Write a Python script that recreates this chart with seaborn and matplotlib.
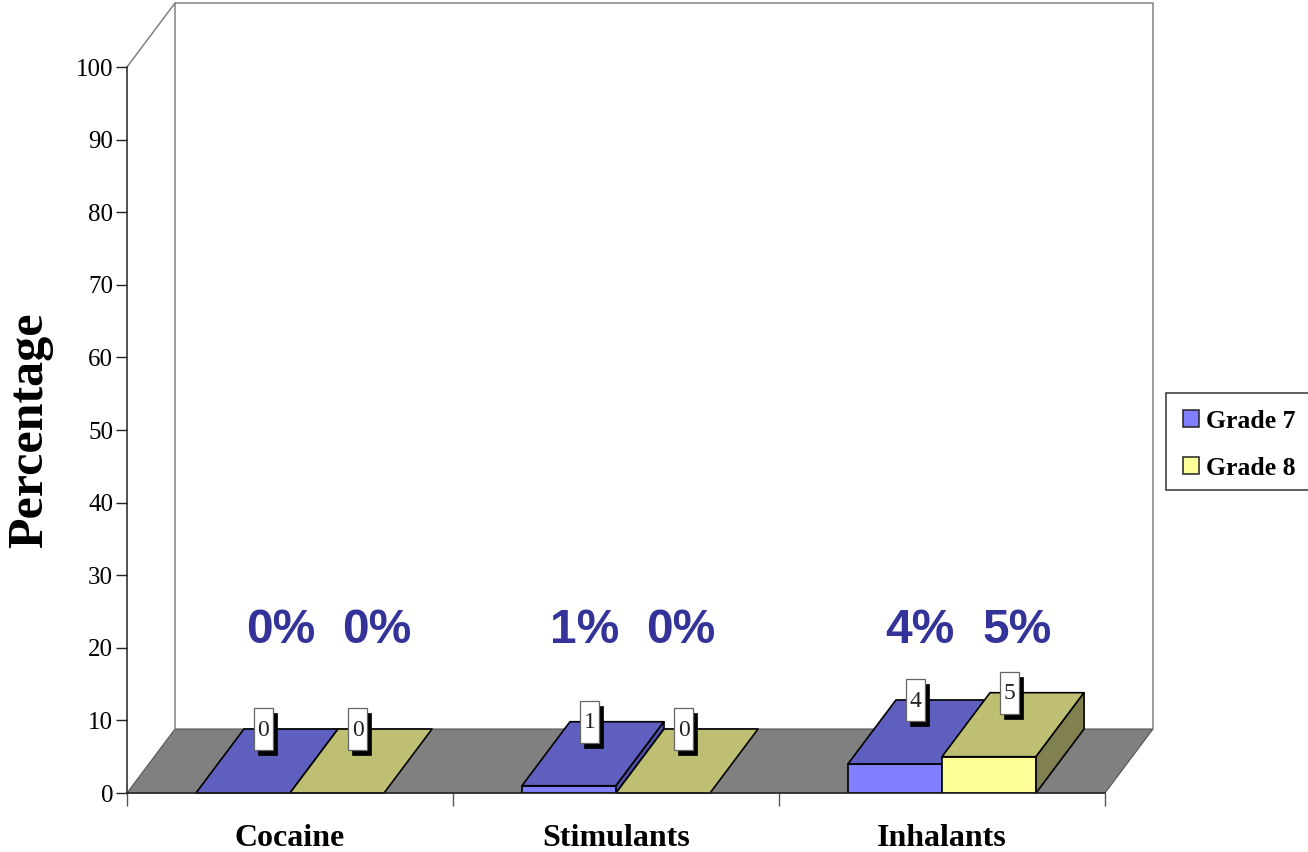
import matplotlib
matplotlib.use("Agg")
import matplotlib.pyplot as plt
from matplotlib.patches import Patch, Polygon, Rectangle
import pandas as pd
import seaborn as sns

drugs = ["Cocaine", "Stimulants", "Inhalants"]
grade7 = [0, 1, 4]
grade8 = [0, 0, 5]
grades = ["Grade 7", "Grade 8"]
pct_labels = [["0%", "1%", "4%"], ["0%", "0%", "5%"]]

front_cols = ["#8080FF", "#FFFF99"]
top_cols = ["#5F5FBF", "#BFBF73"]
side_cols = ["#5050A8", "#808050"]

# the % labels sit by hand in the original, pixels right of each bar centre
pct_shift = [[38, 16, 25], [40, 18, 28]]

sns.set_theme(style="white")
plt.rcParams["font.family"] = ["Liberation Serif", "DejaVu Serif"]
plt.rcParams["text.color"] = "black"
plt.rcParams["xtick.color"] = "black"
plt.rcParams["ytick.color"] = "black"

df = pd.DataFrame({
    "drug": drugs * 2,
    "grade": [grades[0]] * 3 + [grades[1]] * 3,
    "pct": grade7 + grade8,
})

W, H = 1308, 852
fig = plt.figure(figsize=(W / 100, H / 100), dpi=100, facecolor="white")
ax = fig.add_axes([127 / W, (H - 793) / H, 978 / W, 726 / H])

sns.barplot(data=df, x="drug", y="pct", hue="grade", hue_order=grades,
            palette=front_cols, saturation=1, width=0.577, dodge=True, gap=0,
            edgecolor="black", linewidth=1.2, legend=False, ax=ax, zorder=3)

ax.set_xlim(-0.5, 2.5)
ax.set_ylim(0, 100)

# sizes of the fake 3d depth, in data units
dx = 48 / 326
dy = 64 / 7.26
x0, x1 = ax.get_xlim()
y0, y1 = ax.get_ylim()

# floor and back wall
ax.add_patch(Polygon([(x0, y0), (x1, y0), (x1 + dx, y0 + dy), (x0 + dx, y0 + dy)],
                     closed=True, fc="#808080", ec="#555555", lw=0.8, zorder=1, clip_on=False))
wall = "#808080"
ax.plot([x0, x0 + dx, x1 + dx, x1 + dx], [y1, y1 + dy, y1 + dy, y0 + dy],
        color=wall, lw=1.1, clip_on=False, zorder=1)
ax.plot([x0 + dx, x0 + dx], [y1 + dy, y0 + dy], color=wall, lw=1.1, clip_on=False, zorder=1)

# top and side of each bar, then the little value boxes
for h, cont in enumerate(ax.containers):
    for i, bar in enumerate(cont):
        bx, bw, top = bar.get_x(), bar.get_width(), bar.get_height()
        z = 3 + h
        bar.set_zorder(z)
        ax.add_patch(Polygon([(bx, top), (bx + bw, top), (bx + bw + dx, top + dy), (bx + dx, top + dy)],
                             closed=True, fc=top_cols[h], ec="black", lw=1.2, zorder=z,
                             clip_on=False, joinstyle="round"))
        if top > 0:
            ax.add_patch(Polygon([(bx + bw, 0), (bx + bw + dx, dy), (bx + bw + dx, top + dy), (bx + bw, top)],
                                 closed=True, fc=side_cols[h], ec="black", lw=1.2, zorder=z,
                                 clip_on=False))
        cx = bx + bw / 2
        lx = cx + 20.5 / 326
        ly = top + dy
        bw2 = 9.5 / 326
        bh2 = 21 / 7.26
        ax.add_patch(Rectangle((lx - bw2 + 4 / 326, ly - bh2 - 5 / 7.26), bw2 * 2, bh2 * 2,
                               fc="black", ec="black", lw=0.5, zorder=8, clip_on=False))
        ax.add_patch(Rectangle((lx - bw2, ly - bh2), bw2 * 2, bh2 * 2,
                               fc="white", ec="#666666", lw=0.9, zorder=9, clip_on=False))
        ax.text(lx, ly - 0.15, str(int(top)), ha="center", va="center", fontsize=17,
                color="#222222", zorder=10)
        ax.text(cx + pct_shift[h][i] / 326, 22.4, pct_labels[h][i], ha="center", va="center",
                fontsize=34.5, fontweight="bold", family="Liberation Sans",
                color="#333399", zorder=10)

# axes
sns.despine(ax=ax, top=True, right=True)
for s in ["left", "bottom"]:
    ax.spines[s].set_color("#222222")
    ax.spines[s].set_linewidth(1.1)
    ax.spines[s].set_zorder(6)
ax.set_yticks(range(0, 101, 10))
ax.tick_params(axis="y", left=True, length=8, width=1.0, color="#222222", labelsize=18, pad=2)
ax.set_xticks([-0.5, 0.5, 1.5, 2.5])
ax.set_xticklabels([])
ax.set_xticks([0, 1, 2], minor=True)
ax.set_xticklabels(drugs, minor=True, fontsize=23, fontweight="bold", color="black")
ax.tick_params(axis="x", which="major", bottom=True, length=9, width=1.0, color="#555555")
ax.tick_params(axis="x", which="minor", bottom=False, length=0, pad=22.3)
ax.set_xlabel("")
ax.set_ylabel("Percentage", fontsize=36, fontweight="bold", color="black")
ax.yaxis.set_label_coords(-0.0755, 0.5)

# legend frame runs off the right edge, so it is drawn apart from the entries
fig.add_artist(Rectangle((1166 / W, 1 - 490 / H), 150 / W, 97 / H, transform=fig.transFigure,
                         fc="white", ec="#333333", lw=1.1))
handles = [Patch(fc=front_cols[k], ec="#222222", lw=1.1, label=grades[k]) for k in range(2)]
leg = fig.legend(handles=handles, loc="upper left", bbox_to_anchor=(1166 / W, 1 - 393 / H),
                 bbox_transform=fig.transFigure, borderaxespad=0, frameon=False,
                 prop={"family": "Liberation Serif", "weight": "bold", "size": 18.5},
                 handlelength=0.62, handleheight=0.62, handletextpad=0.28,
                 labelspacing=0.93, borderpad=0.65)
leg.set_zorder(5)

fig.savefig("out.png", dpi=100)
